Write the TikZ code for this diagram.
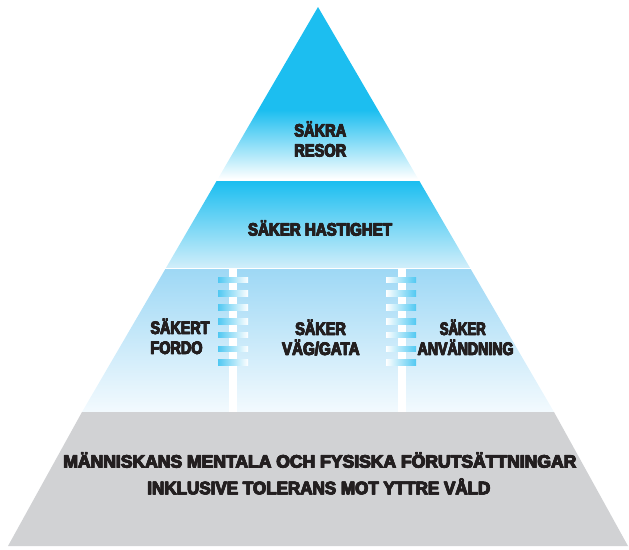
\documentclass[tikz,border=0pt]{standalone}
\usepackage{fontspec}
\usepackage{graphicx}
\setmainfont{Liberation Sans}
\newfontfamily\lblfont[FakeBold=2.5]{Liberation Sans Bold}
\definecolor{cyanA}{RGB}{28,190,240}
\definecolor{paleB}{RGB}{208,238,250}
\definecolor{blueC}{RGB}{158,216,245}
\definecolor{paleC}{RGB}{243,250,254}
\definecolor{rungC}{RGB}{80,200,242}
\definecolor{grayD}{RGB}{209,210,212}
\definecolor{txt}{RGB}{35,31,32}
\newcommand\heavy[1]{\leavevmode\rlap{\kern0.7pt #1}\rlap{\kern0.35pt\raisebox{0.25pt}{#1}}#1}
\newcommand\fw[2]{\resizebox{#1pt}{\height}{\heavy{#2}}}
\tikzset{
  lbl/.style={inner sep=0pt, anchor=base, text=txt, font=\lblfont\fontsize{18}{18}\selectfont},
  lblw/.style={lbl, anchor=base west},
  post/.style={fill=white},
  rungL/.style={left color=rungC, right color=white},
  rungR/.style={left color=white, right color=rungC}
}
\begin{document}
\begin{tikzpicture}[x=1pt,y=-1pt]
\useasboundingbox (0,0) rectangle (629,549);
% blue pyramid layers
\begin{scope}
  \clip (318,7) -- (554,412) -- (82,412) -- cycle;
  \fill[cyanA] (0,0) rectangle (629,110);
  \shade[top color=cyanA, bottom color=white] (0,110) rectangle (629,179);
  \shade[top color=cyanA, bottom color=paleB] (0,181.5) rectangle (629,267.5);
  \shade[top color=blueC, bottom color=paleC] (0,269) rectangle (629,412);
\end{scope}
% posts
\fill[post] (229,269) rectangle (237,412);
\fill[post] (398,269) rectangle (406,412);
% rungs
\foreach \i in {0,...,6}{
  \pgfmathsetmacro\yy{277+13.8*\i}
  \shade[rungL] (218,\yy) rectangle ++(30,5.7);
  \shade[rungR] (386,\yy) rectangle ++(30,5.7);
}
% base
\fill[grayD] (82,412) -- (554,412) -- (628,546) -- (8,546) -- cycle;
% labels
\node[lbl] (t1a) at (320,136.7) {\fw{52}{SÄKRA}};
\node[lbl] (t1b) at (320,156.7) {\fw{52}{RESOR}};
\node[lbl] (t2) at (319.7,235.7) {\fw{144}{SÄKER HASTIGHET}};
\node[lblw] (t3a) at (150,334) {\fw{59}{SÄKERT}};
\node[lblw] (t3b) at (150,354) {\fw{52}{FORDO}};
\node[lbl] (t4a) at (320.3,335) {\fw{50.7}{SÄKER}};
\node[lbl] (t4b) at (320.5,355) {\fw{77.6}{VÄG/GATA}};
\node[lbl] (t5a) at (462.5,335) {\fw{46}{SÄKER}};
\node[lbl] (t5b) at (465.3,355) {\fw{96}{ANVÄNDNING}};
\node[lbl] (b1) at (319.5,467.7) {\fw{513}{MÄNNISKANS MENTALA OCH FYSISKA FÖRUTSÄTTNINGAR}};
\node[lbl] (b2) at (318.5,494.3) {\fw{343}{INKLUSIVE TOLERANS MOT YTTRE VÅLD}};
\end{tikzpicture}
\end{document}
